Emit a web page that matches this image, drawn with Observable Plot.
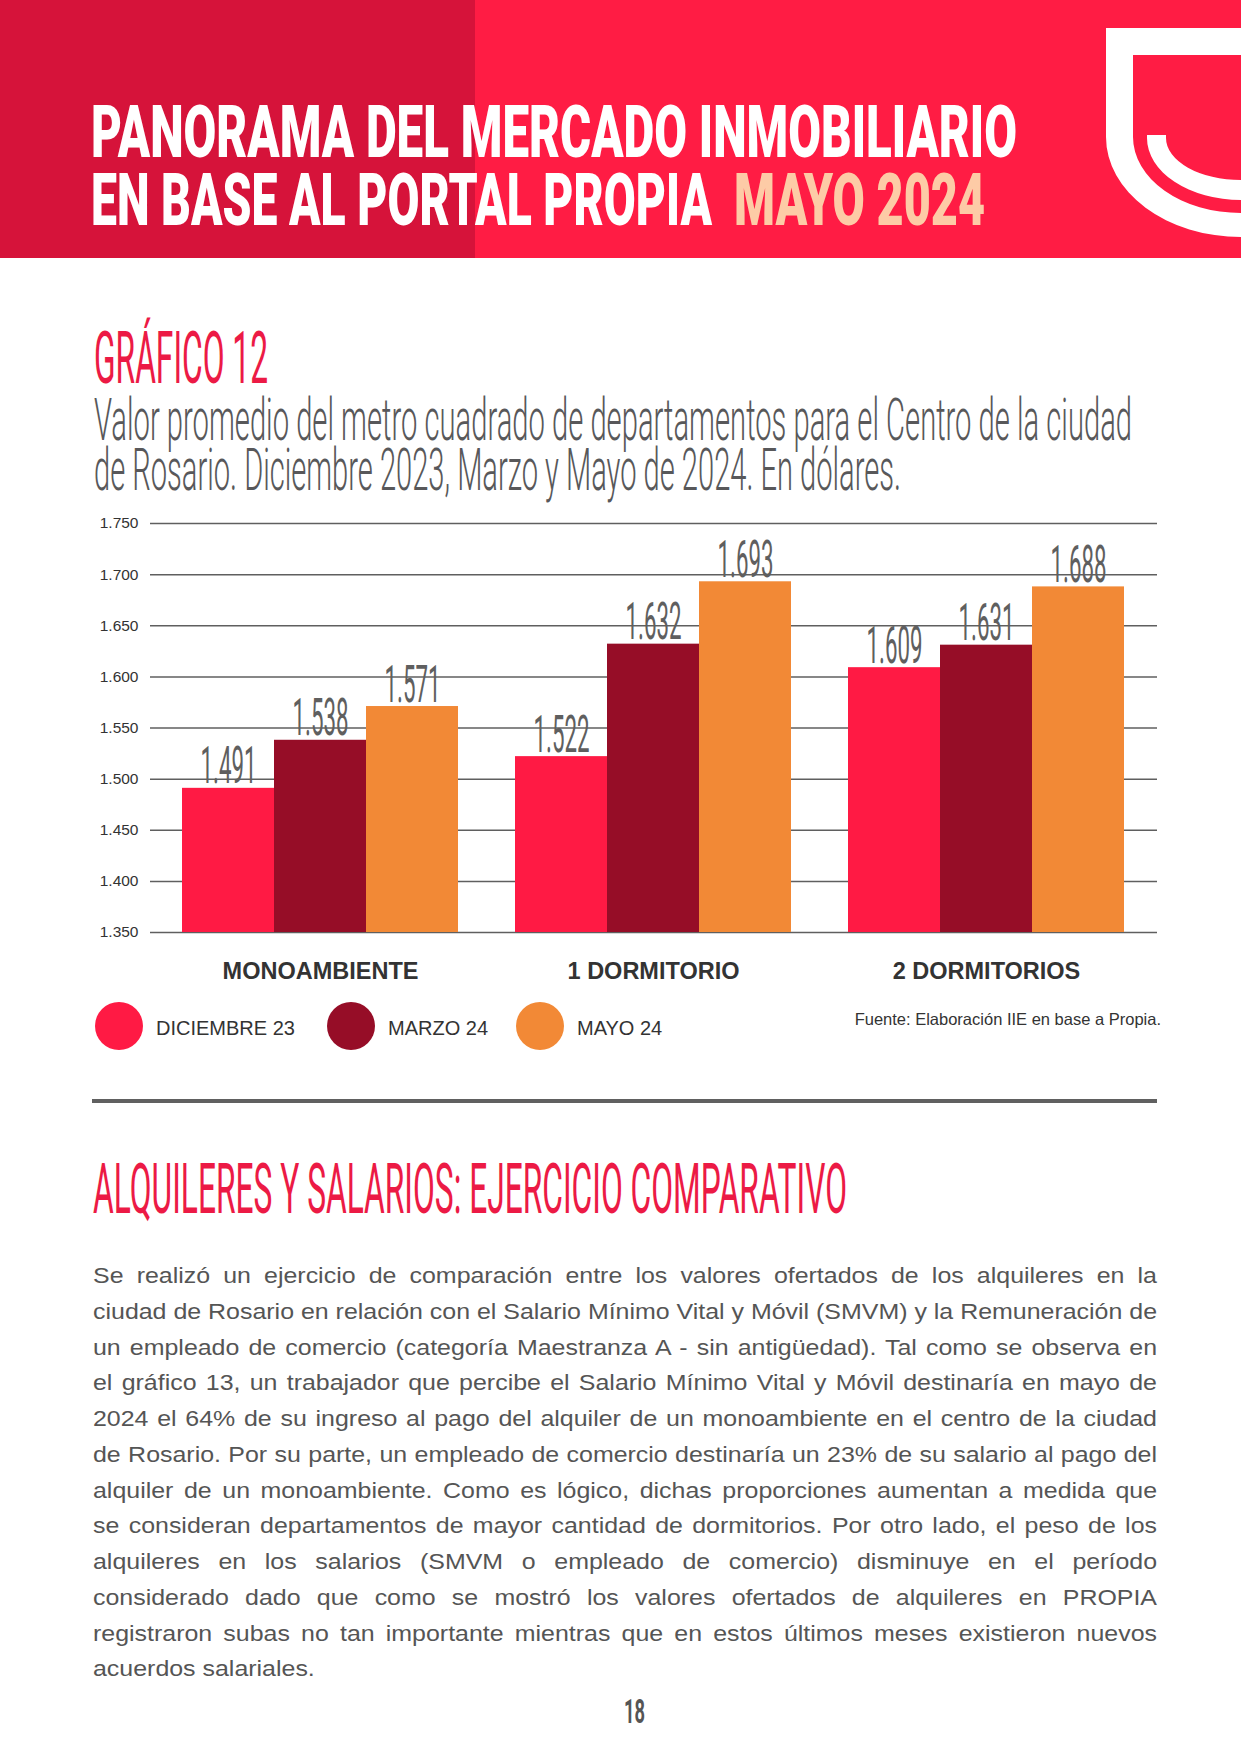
<!DOCTYPE html>
<html>
<head>
<meta charset="utf-8">
<script src="https://cdn.jsdelivr.net/npm/d3@7"></script>
<script src="https://cdn.jsdelivr.net/npm/@observablehq/plot@0.6"></script>
<style>
  html, body { margin: 0; padding: 0; background: #fff; }
  #page { position: relative; width: 1241px; height: 1754px; overflow: hidden; background: #fff; }
  .abs { position: absolute; }
</style>
</head>
<body>
<div id="page"></div>
<script>
// ---------- DATA ----------
const groups = ["MONOAMBIENTE", "1 DORMITORIO", "2 DORMITORIOS"];
const series = ["DICIEMBRE 23", "MARZO 24", "MAYO 24"];
const dic23 = [1491, 1522, 1609];
const mar24 = [1538, 1632, 1631];
const may24 = [1571, 1693, 1688];
const seriesColors = ["#FF1A44", "#960D27", "#F28936"];
const yTicks = [1350, 1400, 1450, 1500, 1550, 1600, 1650, 1700, 1750];

const headerLine1 = "PANORAMA DEL MERCADO INMOBILIARIO";
const headerLine2 = "EN BASE AL PORTAL PROPIA";
const headerDate = "MAYO 2024";
const chartNumber = "GRÁFICO 12";
const subtitleLines = [
  "Valor promedio del metro cuadrado de departamentos para el Centro de la ciudad",
  "de Rosario. Diciembre 2023, Marzo y Mayo de 2024. En dólares."
];
const sourceText = "Fuente: Elaboración IIE en base a Propia.";
const sectionTitle = "ALQUILERES Y SALARIOS: EJERCICIO COMPARATIVO";
const paragraphLines = [
  "Se realizó un ejercicio de comparación entre los valores ofertados de los alquileres en la",
  "ciudad de Rosario en relación con el Salario Mínimo Vital y Móvil (SMVM) y la Remuneración de",
  "un empleado de comercio (categoría Maestranza A - sin antigüedad). Tal como se observa en",
  "el gráfico 13, un trabajador que percibe el Salario Mínimo Vital y Móvil destinaría en mayo de",
  "2024 el 64% de su ingreso al pago del alquiler de un monoambiente en el centro de la ciudad",
  "de Rosario. Por su parte, un empleado de comercio destinaría un 23% de su salario al pago del",
  "alquiler de un monoambiente. Como es lógico, dichas proporciones aumentan a medida que",
  "se consideran departamentos de mayor cantidad de dormitorios. Por otro lado, el peso de los",
  "alquileres en los salarios (SMVM o empleado de comercio) disminuye en el período",
  "considerado dado que como se mostró los valores ofertados de alquileres en PROPIA",
  "registraron subas no tan importante mientras que en estos últimos meses existieron nuevos",
  "acuerdos salariales."
];
const pageNumber = "18";

// ---------- helpers ----------
const page = document.getElementById("page");
const fmt = d3.formatLocale({decimal: ",", thousands: ".", grouping: [3], currency: ["$", ""]}).format(",");
const sans = "'Liberation Sans', Arial, Helvetica, sans-serif";

function placeText(str, o) {
  const el = document.createElement("div");
  el.textContent = str;
  Object.assign(el.style, {
    position: "absolute", left: "0px", top: "0px",
    fontFamily: o.font || "Roboto, sans-serif", fontSize: o.size + "px",
    fontWeight: o.weight || 400, color: o.color || "#333",
    whiteSpace: "nowrap", lineHeight: "1", transformOrigin: "0 0"
  });
  page.appendChild(el);
  const m = document.createElement("span");
  m.style.cssText = "display:inline-block;width:0;height:0;vertical-align:baseline";
  el.appendChild(m);
  const base = m.getBoundingClientRect().bottom - el.getBoundingClientRect().top;
  el.style.top = (o.baseline - base) + "px";
  const natural = el.getBoundingClientRect().width;
  let w = natural;
  if (o.width) { el.style.transform = `scaleX(${o.width / natural})`; w = o.width; }
  el.style.left = (o.align === "right" ? o.x - w : o.x) + "px";
  return el;
}

function block(x, y, w, h, bg) {
  const d = document.createElement("div");
  d.className = "abs";
  Object.assign(d.style, {left: x + "px", top: y + "px", width: w + "px", height: h + "px", background: bg});
  page.appendChild(d);
  return d;
}

// ---------- header ----------
block(0, 0, 1241, 258, "#FF1C44");
block(0, 0, 475, 258, "#D6133A");
const logo = document.createElementNS("http://www.w3.org/2000/svg", "svg");
logo.setAttribute("width", 1241); logo.setAttribute("height", 258);
logo.setAttribute("class", "abs");
logo.style.left = "0px"; logo.style.top = "0px";
logo.innerHTML = `
  <path fill="#fff" fill-rule="evenodd" d="M1106,28 H1241 V237 A135,100 0 0 1 1106,137 Z M1133,55 H1241 V213 A108,76 0 0 1 1133,137 Z"/>
  <path fill="#fff" d="M1147,135 H1166 V138 A75,42 0 0 0 1241,180 V200 A94,62 0 0 1 1147,138 Z"/>`;
page.appendChild(logo);

const condensedBold = "Roboto, 'Liberation Sans', sans-serif";
placeText(headerLine1, {x: 91, baseline: 157, size: 72, weight: 900, color: "#fff", width: 926, font: condensedBold});
placeText(headerLine2, {x: 91, baseline: 225, size: 72, weight: 900, color: "#fff", width: 621, font: condensedBold});
placeText(headerDate, {x: 734, baseline: 225, size: 72, weight: 900, color: "#FDCBA6", width: 251, font: condensedBold});

// ---------- chart titles ----------
placeText(chartNumber, {x: 94, baseline: 383, size: 72, weight: 400, color: "#EC1A45", width: 174});
placeText(subtitleLines[0], {x: 94, baseline: 440, size: 60, weight: 300, color: "#58585A", width: 1038});
placeText(subtitleLines[1], {x: 94, baseline: 490, size: 60, weight: 300, color: "#58585A", width: 807});

// ---------- chart ----------
const data = groups.flatMap((g, i) => [
  {group: g, series: series[0], value: dic23[i]},
  {group: g, series: series[1], value: mar24[i]},
  {group: g, series: series[2], value: may24[i]}
]);

const frame = {
  width: 1241, height: 500,
  marginTop: 23, marginBottom: 68, marginLeft: 150, marginRight: 84,
  style: {fontFamily: sans, background: "transparent", overflow: "visible"}
};

// background layer: continuous gridlines + y axis
const grid = Plot.plot({
  ...frame,
  y: {domain: [1350, 1750]},
  marks: [
    Plot.ruleY(yTicks, {stroke: "#5f5f5f", strokeWidth: 1.5}),
    Plot.axisY({ticks: yTicks, tickSize: 0, tickPadding: 12, tickFormat: fmt, fontSize: 15.5, color: "#333", label: null})
  ]
});

// foreground layer: grouped bars, value labels, group labels
const bars = Plot.plot({
  ...frame,
  fx: {domain: groups, paddingInner: 0.17, paddingOuter: 0.095, label: null},
  x: {domain: series, padding: 0, axis: null},
  y: {domain: [1350, 1750], axis: null},
  color: {domain: series, range: seriesColors},
  marks: [
    Plot.barY(data, {fx: "group", x: "series", y1: 1350, y2: "value", fill: "series"}),
    Plot.text(data, {fx: "group", x: "series", y: "value", text: d => fmt(d.value), dy: -5, lineAnchor: "bottom",
      fontSize: 52, fontFamily: "Roboto, sans-serif", fill: "#5f5f5f", className: "vlabel"}),
    Plot.axisFx({anchor: "bottom", tickSize: 0, tickPadding: 30, fontSize: 23.5, fontWeight: "bold", color: "#333", label: null})
  ]
});

[grid, bars].forEach(svg => {
  svg.classList.add("abs");
  svg.style.left = "0px";
  svg.style.top = "500px";
  page.appendChild(svg);
});
bars.querySelectorAll(".vlabel text").forEach(t => {
  t.setAttribute("textLength", 56);
  t.setAttribute("lengthAdjust", "spacingAndGlyphs");
});

// ---------- legend ----------
const legendX = [95, 327, 516];
series.forEach((s, i) => {
  const c = block(legendX[i], 1002, 48, 48, seriesColors[i]);
  c.style.borderRadius = "50%";
  placeText(s, {x: legendX[i] + 61, baseline: 1035, size: 20, color: "#333", font: sans});
});
placeText(sourceText, {x: 1161, baseline: 1025, size: 16.5, color: "#333", align: "right", font: sans});

// ---------- separator ----------
block(92, 1099, 1065, 4, "#606060");

// ---------- section ----------
placeText(sectionTitle, {x: 93, baseline: 1213, size: 70, weight: 400, color: "#EC1A45", width: 754});

// paragraph: wide, justified lines (uniform horizontal stretch so the longest line fills the column)
const paraEls = paragraphLines.map((line, i) =>
  placeText(line, {x: 93, baseline: 1283 + i * 35.75, size: 21.5, weight: 400, color: "#555", font: sans}));
const maxNatural = d3.max(paraEls.slice(0, -1), el => el.getBoundingClientRect().width);
const stretch = 1064 / maxNatural;
paraEls.forEach((el, i) => {
  el.style.transform = `scaleX(${stretch})`;
  if (i < paraEls.length - 1) {
    el.style.whiteSpace = "normal";
    el.style.width = (1064 / stretch) + "px";
    el.style.textAlign = "justify";
    el.style.textAlignLast = "justify";
  }
});

placeText(pageNumber, {x: 624, baseline: 1723, size: 34, weight: 700, color: "#555", width: 21});
</script>
</body>
</html>
